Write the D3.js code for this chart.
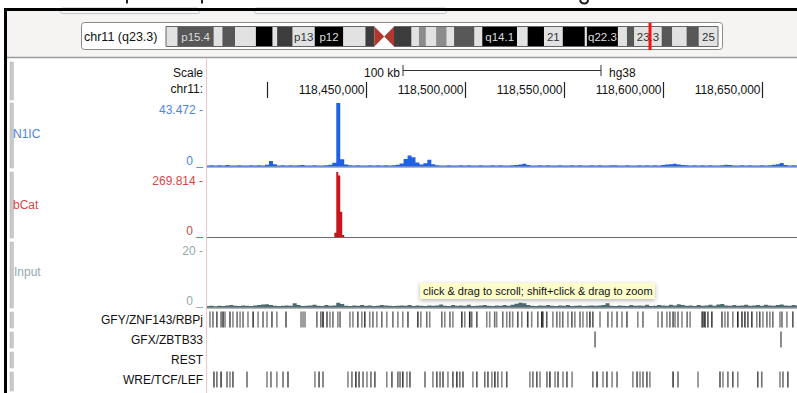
<!DOCTYPE html>
<html>
<head>
<meta charset="utf-8">
<script src="https://cdn.jsdelivr.net/npm/d3@7"></script>
<style>
  body { margin: 0; background: #fff; }
  svg { display: block; font-family: "Liberation Sans", Arial, sans-serif; }
</style>
</head>
<body>
<svg id="chart" width="797" height="393"></svg>
<script>
// ---- data ----
const viewStart = 118369700, viewEnd = 118667700;
const axisTicks = [118400000, 118450000, 118500000, 118550000, 118600000, 118650000];
const scaleBarKb = 100;

// chr11 cytobands (Mb end positions), stains and the labels that are shown
const bandNames = ["p15.5","p15.4","p15.3","p15.2","p15.1","p14.3","p14.2","p14.1","p13","p12","p11.2","p11.12","p11.11","q11","q12.1","q12.2","q12.3","q13.1","q13.2","q13.3","q13.4","q13.5","q14.1","q14.2","q14.3","q21","q22.1","q22.2","q22.3","q23.1","q23.2","q23.3","q24.1","q24.2","q24.3","q25"];
const bandEnds = [2.8,11.7,13.8,16.9,22.0,26.1,27.2,31.0,36.4,43.4,48.8,51.0,53.4,55.8,60.1,61.9,63.6,66.1,68.7,70.5,75.5,77.4,85.9,88.5,92.5,97.1,102.5,103.0,110.6,112.8,114.6,121.3,123.9,127.4,130.4,135.086622];
const bandStains = ["gneg","gpos50","gneg","gpos50","gneg","gpos100","gneg","gpos75","gneg","gpos100","gneg","gpos75","acen","acen","gpos75","gneg","gpos25","gneg","gpos25","gneg","gpos50","gneg","gpos100","gneg","gpos100","gneg","gpos100","gneg","gpos100","gneg","gpos50","gneg","gpos50","gneg","gpos50","gneg"];
const bandLabels = ["","p15.4","","","","","","","p13","p12","","","","","","","","","","","","","q14.1","","","21","","","q22.3","","","23.3","","","","25"];
const cursorMb = 118.45;

// signal tracks, 2 kb bins from binStart
const binStart = 118369000, binSize = 2000;
const n1icMax = 43.472;
const n1icValues = [
  0.7,0.9,0.6,0.8,0.7,1.0,0.7,0.6,0.9,0.7,
  0.6,0.8,0.7,0.9,0.6,1.2,3.8,1.5,0.7,0.8,
  0.6,0.9,0.7,0.8,1.0,0.6,0.7,0.9,0.7,0.6,
  0.8,1.2,2.6,43.47,5.0,1.4,0.8,0.7,0.9,0.6,
  0.7,0.8,0.6,0.9,0.7,0.8,0.6,0.9,1.2,2.0,
  5.2,7.6,6.3,2.8,1.4,2.2,4.6,1.6,0.9,0.7,
  0.6,0.8,0.7,0.6,0.9,0.7,0.8,0.6,0.7,0.9,
  0.7,0.6,0.8,0.7,0.9,0.6,0.7,0.8,1.0,1.3,
  1.8,1.1,0.7,0.6,0.8,0.7,0.9,0.6,0.7,0.8,
  0.6,0.7,0.9,0.6,0.8,0.7,0.6,0.9,0.7,0.8,
  0.7,0.6,0.8,0.9,0.7,0.6,0.8,0.7,0.6,0.9,
  0.7,0.8,0.6,0.9,0.7,1.0,1.3,1.5,1.8,1.4,
  1.0,0.8,0.7,0.9,0.6,0.8,0.7,0.9,0.7,0.6,
  0.8,1.2,1.0,0.7,0.6,0.8,0.7,0.9,0.6,0.7,
  0.8,0.7,0.9,1.2,1.6,2.4,1.1,0.7,0.8,0.6
];
const inputMax = 20;
const inputValues = [
  0.5,0.6,0.4,0.6,0.5,0.7,0.8,0.6,0.5,0.7,
  0.6,0.5,0.7,0.8,1.0,1.1,0.8,0.6,0.5,0.6,
  0.7,0.6,1.4,0.8,0.5,0.6,0.7,0.9,0.6,0.5,
  0.8,0.6,0.7,1.6,1.2,0.6,0.5,0.7,0.6,0.8,
  0.6,0.7,0.5,0.6,0.8,0.7,0.6,0.5,0.6,0.7,
  0.6,0.8,0.5,0.7,0.6,0.5,0.7,0.6,0.7,1.0,
  0.6,0.5,0.8,0.6,0.7,0.6,0.9,0.5,0.6,0.7,
  0.8,0.6,0.5,0.7,0.6,0.8,0.6,0.9,1.3,1.6,
  1.4,0.8,0.6,0.5,0.7,0.6,0.8,0.6,0.5,0.7,
  0.6,0.8,0.5,0.6,0.7,0.5,0.6,0.7,0.6,0.7,
  0.8,1.4,0.6,0.5,0.7,0.6,0.5,0.8,0.6,0.7,
  0.6,0.9,0.5,0.6,0.8,0.7,0.6,0.9,0.7,1.1,
  0.8,0.6,0.7,0.5,0.8,0.6,0.7,0.9,0.6,1.0,
  1.2,0.7,0.6,0.8,0.6,0.7,0.9,0.6,0.7,0.8,
  0.6,0.9,0.7,0.6,0.8,1.0,0.7,0.6,0.8,0.7
];
// bCat is flat except one peak, 1 kb bins
const bcatMax = 269.814;
const bcatStart = 118434000, bcatBin = 1000;
const bcatValues = [18, 269.814, 255, 105, 8];

// motif hits, kb offsets from motifOrigin
const motifOrigin = 118370000;
const motifNames = ["GFY/ZNF143/RBPj", "GFX/ZBTB33", "REST", "WRE/TCF/LEF"];
const gfyKb = [1.2,2.7,4.7,6.8,7.8,8.8,11.3,12.8,14.9,16.4,17.9,20.4,23.0,25.5,28.0,30.0,32.5,35.0,39.6,47.2,
  48.2,49.2,55.2,57.2,58.3,60.3,61.8,63.3,65.8,66.9,71.9,73.4,75.9,77.9,79.4,81.9,83.5,85.5,88.0,90.5,
  93.6,96.1,98.6,101.2,106.2,107.7,110.7,112.2,118.3,119.8,122.4,123.9,128.4,129.9,132.4,133.4,136.0,141.0,142.5,145.0,
  146.0,149.1,151.1,152.6,154.1,156.7,158.7,161.7,163.7,166.8,168.8,169.3,171.3,174.4,176.4,177.9,179.4,182.0,184.0,185.5,
  188.1,189.6,191.6,193.1,194.6,198.2,202.2,204.2,206.8,209.3,211.8,217.3,219.9,227.5,229.5,232.0,233.5,235.1,236.1,237.6,
  239.6,242.2,243.7,249.7,250.2,251.2,252.7,254.7,259.8,261.3,262.8,265.3,267.8,269.9,271.4,272.9,274.9,277.4,278.9,280.5,
  282.5,284.0,285.5,289.1,290.1,292.6,295.6];
const gfyShade = "5676857565658565757555669756565575856565655785656565859675565656575856987565657565587565657565656756565689787565988785756565657";
const gfxKb = [195.7, 289.6];
const gfxShade = "66";
const restKb = [];
const restShade = "";
const wreKb = [3.2,4.7,6.8,9.8,11.3,12.8,19.9,30.0,32.0,35.0,38.1,40.6,54.2,56.3,58.3,70.9,72.9,74.9,76.5,78.5,
  80.5,82.5,84.5,90.5,93.1,96.1,97.2,98.6,100.7,102.2,109.8,113.8,115.8,117.4,118.9,121.4,123.9,125.9,127.4,129.0,
  134.0,136.0,140.0,141.6,143.6,145.1,146.6,148.6,151.1,162.8,164.3,166.3,167.9,171.4,172.9,175.5,177.0,179.5,181.5,184.1,
  194.6,196.7,199.7,201.7,204.3,206.8,214.8,216.9,218.4,219.9,221.9,223.4,235.1,237.6,247.7,258.8,260.3,262.8,265.3,267.8,
  277.9,279.9,289.1,290.6,293.1];
const wreShade = "7686576565675765687656757668576576757867576758657567568575756857565756758657567576567565676";

// ---- drawing ----
const svg = d3.select("#chart");
const W = 797, dataLeft = 207, labelRight = 203;
const fmt = d3.format(",");

// page frame and top panel (only descender strokes of the page text above are visible)
svg.append("rect").attr("x", 0).attr("y", 0).attr("width", W).attr("height", 393).attr("fill", "#fff");
svg.append("path").attr("d", "M127,0V3.5M202,0V3.5M580,0Q581,4 585,3.5Q588,3 588,0")
  .attr("fill", "none").attr("stroke", "#222").attr("stroke-width", 2);
svg.append("rect").attr("x", 7).attr("y", 10).attr("width", W - 7).attr("height", 47).attr("fill", "#f5f4f2");
[[60, 199], [254, 446]].forEach(([a, b]) => {
  svg.append("rect").attr("x", a + 0.5).attr("y", 8).attr("width", b - a).attr("height", 5.5)
    .attr("rx", 2).attr("fill", "#f7f7f6").attr("stroke", "#c4c4c4");
});
svg.append("line").attr("x1", 7).attr("x2", W).attr("y1", 57.5).attr("y2", 57.5)
  .attr("stroke", "#9a9a9a").attr("stroke-width", 1.5);
svg.append("rect").attr("x", 4).attr("y", 8).attr("width", W - 4).attr("height", 3).attr("fill", "#000");
svg.append("rect").attr("x", 4).attr("y", 8).attr("width", 3).attr("height", 385).attr("fill", "#000");

// ideogram
const ideo = svg.append("g");
ideo.append("rect").attr("x", 81.5).attr("y", 22.5).attr("width", 641).attr("height", 27)
  .attr("rx", 3).attr("fill", "#fff").attr("stroke", "#8a8a8a");
ideo.append("text").attr("x", 84).attr("y", 40.5).attr("font-size", 12.5).attr("fill", "#111")
  .text("chr11 (q23.3)");
const ix = d3.scaleLinear().domain([0, bandEnds[bandEnds.length - 1]]).range([166, 718]);
const stainFill = { gneg: "#e2e2e2", gpos25: "#8c8c8c", gpos50: "#575757", gpos75: "#3c3c3c", gpos100: "#000" };
const bands = bandNames.map((name, i) => ({
  name, start: i ? bandEnds[i - 1] : 0, end: bandEnds[i], stain: bandStains[i], label: bandLabels[i]
}));
const bt = 26.5, bb = 46.5, bm = (bt + bb) / 2;
bands.forEach(b => {
  const x0 = ix(b.start), x1 = ix(b.end);
  if (b.stain === "acen") {
    const pts = b.name.startsWith("p")
      ? [[x0, bt], [x1, bm], [x0, bb]]
      : [[x0, bm], [x1, bt], [x1, bb]];
    ideo.append("path").attr("d", d3.line()(pts) + "Z").attr("fill", "#b0392e");
  } else {
    ideo.append("rect").attr("x", x0).attr("y", bt).attr("width", x1 - x0).attr("height", bb - bt)
      .attr("fill", stainFill[b.stain]);
  }
});
const cenStart = ix(bands.find(b => b.stain === "acen").start);
const cenEnd = ix(bands.filter(b => b.stain === "acen").pop().end);
ideo.append("path")
  .attr("d", `M${cenStart},${bt}H${ix(0)}V${bb}H${cenStart}M${cenEnd},${bt}H${ix.range()[1]}V${bb}H${cenEnd}`)
  .attr("fill", "none").attr("stroke", "#666");
bands.filter(b => b.label).forEach(b => {
  const dark = b.stain !== "gneg";
  ideo.append("text").attr("x", (ix(b.start) + ix(b.end)) / 2).attr("y", 41)
    .attr("text-anchor", "middle").attr("font-size", 11.5)
    .attr("fill", dark ? "#dcdcdc" : "#333").text(b.label);
});
ideo.append("rect").attr("x", ix(cursorMb) - 1.5).attr("y", 23).attr("width", 3).attr("height", 27)
  .attr("fill", "#f01414");

// left side buttons and the label/data divider
const rows = [[62, 100], [103, 168], [172, 238], [242, 308], [312, 328], [332, 348], [352, 368], [372, 391]];
rows.forEach(([a, b]) => {
  svg.append("rect").attr("x", 10).attr("y", a).attr("width", 3.5).attr("height", b - a)
    .attr("fill", "#c9c9c9").attr("stroke", "#b5b5b5").attr("stroke-width", 0.5);
});
svg.append("line").attr("x1", 206.5).attr("x2", 206.5).attr("y1", 58).attr("y2", 393)
  .attr("stroke", "#f6c4c4");

const x = d3.scaleLinear().domain([viewStart, viewEnd]).range([dataLeft, W]);
svg.append("clipPath").attr("id", "dataClip")
  .append("rect").attr("x", dataLeft).attr("y", 58).attr("width", W - dataLeft).attr("height", 335);

// scale row
const rlab = (y, txt, color, size) => svg.append("text").attr("x", labelRight).attr("y", y)
  .attr("text-anchor", "end").attr("font-size", size || 12).attr("fill", color || "#111").text(txt);
rlab(77, "Scale");
rlab(92.5, "chr11:");
const mid = (viewStart + viewEnd) / 2;
const sb0 = x(mid - scaleBarKb * 500), sb1 = x(mid + scaleBarKb * 500);
svg.append("path").attr("d", `M${sb0},65V76M${sb0},70.5H${sb1}M${sb1},65V76`)
  .attr("stroke", "#333").attr("fill", "none");
svg.append("text").attr("x", sb0 - 3).attr("y", 77).attr("text-anchor", "end").attr("font-size", 12)
  .attr("fill", "#111").text(scaleBarKb + " kb");
svg.append("text").attr("x", sb1 + 8).attr("y", 77).attr("font-size", 12).attr("fill", "#111").text("hg38");

const tickG = svg.append("g");
axisTicks.forEach(t => {
  const tx = Math.round(x(t)) + 0.5;
  tickG.append("line").attr("x1", tx).attr("x2", tx).attr("y1", 82).attr("y2", 98)
    .attr("stroke", "#222").attr("stroke-width", 1.2);
  const lab = tickG.append("text").attr("x", tx - 2).attr("y", 93.5).attr("text-anchor", "end")
    .attr("font-size", 12).attr("fill", "#111").text(fmt(t));
  if (tx - 2 - lab.node().getComputedTextLength() < dataLeft) lab.remove();
});

// signal tracks
function binned(start, size, vals) {
  const pts = vals.map((v, i) => [start + i * size, v]);
  pts.push([start + vals.length * size, vals[vals.length - 1]]);
  return pts;
}
function signalTrack(pts, max, top, base, color) {
  const y = d3.scaleLinear().domain([0, max]).range([base, top]);
  svg.append("line").attr("x1", dataLeft).attr("x2", W).attr("y1", base + 0.5).attr("y2", base + 0.5)
    .attr("stroke", "#6a6a6a");
  const area = d3.area().x(d => x(d[0])).y0(base).y1(d => y(d[1])).curve(d3.curveStepAfter);
  svg.append("path").datum(pts).attr("d", area).attr("fill", color).attr("clip-path", "url(#dataClip)");
}
signalTrack(binned(binStart, binSize, n1icValues), n1icMax, 103, 166.5, "#1f60e4");
const bcatPts = [[viewStart, 0]].concat(binned(bcatStart, bcatBin, bcatValues.concat([0])), [[viewEnd, 0]]);
signalTrack(bcatPts, bcatMax, 172, 237, "#c8141c");
signalTrack(binned(binStart, binSize, inputValues), inputMax, 248, 307.5, "#4c6b70");

const blue = "#4d84ea", red = "#d24848", grey = "#93a9ae";
svg.append("text").attr("x", 13).attr("y", 137.5).attr("font-size", 12).attr("fill", blue).text("N1IC");
rlab(114, n1icMax.toFixed(3) + " -", blue);
rlab(164.5, "0 _", blue);
svg.append("text").attr("x", 13).attr("y", 209).attr("font-size", 12).attr("fill", red).text("bCat");
rlab(184.5, bcatMax.toFixed(3) + " -", red);
rlab(234.5, "0 _", red);
svg.append("text").attr("x", 14).attr("y", 276).attr("font-size", 12).attr("fill", grey).text("Input");
rlab(254.5, inputMax + " -", grey);
rlab(304.5, "0 _", grey);

// motif tracks
const shadeColor = d => { const g = 255 - (+d) * 24; return d3.rgb(g, g, g); };
const motifData = [[gfyKb, gfyShade], [gfxKb, gfxShade], [restKb, restShade], [wreKb, wreShade]];
motifNames.forEach((name, r) => {
  const top = [311.5, 331.5, 351.5, 371.5][r];
  rlab(top + 12.5, name, "#111");
  const [kb, shade] = motifData[r];
  svg.append("g").attr("clip-path", "url(#dataClip)").selectAll("rect").data(kb).join("rect")
    .attr("x", d => x(motifOrigin + d * 1000) - 0.8).attr("y", top).attr("width", 1.6).attr("height", 16)
    .attr("fill", (d, i) => shadeColor(shade[i] || "6"));
});

// tooltip
const defs = svg.append("defs");
defs.append("filter").attr("id", "tipShadow").attr("x", "-10%").attr("y", "-50%").attr("width", "120%").attr("height", "220%")
  .append("feDropShadow").attr("dx", 0).attr("dy", 1.5).attr("stdDeviation", 2).attr("flood-color", "#000").attr("flood-opacity", 0.3);
svg.append("rect").attr("x", 420).attr("y", 283).attr("width", 235).attr("height", 16)
  .attr("fill", "#fdfdcb").attr("filter", "url(#tipShadow)");
svg.append("text").attr("x", 423).attr("y", 295).attr("font-size", 11).attr("fill", "#111")
  .text("click & drag to scroll; shift+click & drag to zoom");
</script>
</body>
</html>
